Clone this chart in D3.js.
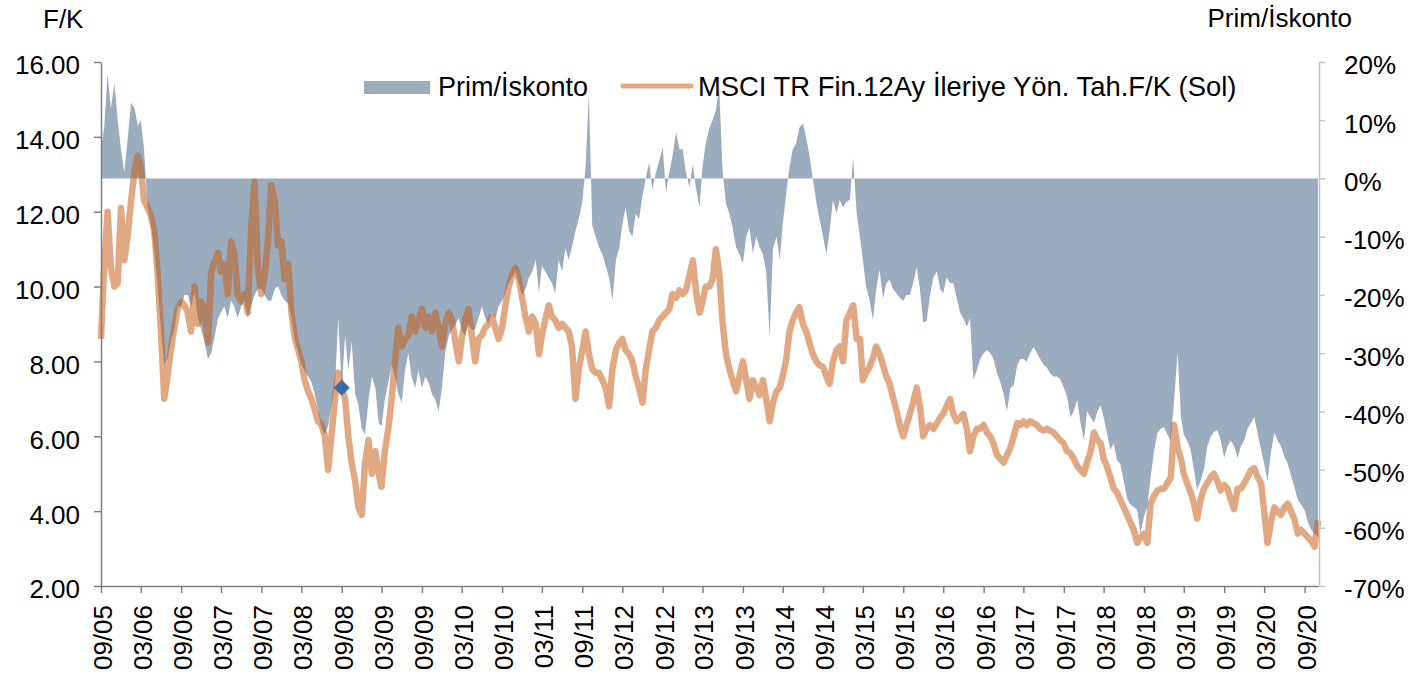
<!DOCTYPE html>
<meta charset="UTF-8">
<script src="https://d3js.org/d3.v7.min.js"></script>
<style>
body { margin: 0; background: #fff; }
text { font-family: "Liberation Sans", Arial, sans-serif; fill: #000; }
</style>
<body>
<div id="chart"></div>
<script>

// one point on the 1st and 16th of each month, starting 09/2005
var startYear = 2005, startMonth = 8, nPoints = 365;
var dates = d3.range(nPoints).map(function (i) {
  return new Date(startYear, startMonth + Math.floor(i / 2), i % 2 ? 16 : 1);
});

// MSCI TR Fin. 12m forward P/E (left axis)
var peValues = [
  8.6,10.6,12.0,10.5,10.0,10.1,12.1,10.7,11.4,12.3,13.1,13.5,13.2,12.3,12.1,11.9,11.5,10.4,8.8,7.0,7.6,8.3,8.9,9.4,
  9.6,9.5,9.3,8.8,10.0,9.0,9.6,9.4,8.5,10.4,10.7,10.9,10.4,10.6,9.8,11.2,10.9,9.8,9.6,9.8,9.3,11.5,12.8,10.5,
  9.8,10.3,11.2,12.7,12.3,11.1,11.2,10.2,10.6,9.3,8.6,8.3,8.0,7.5,7.2,7.0,6.7,6.4,6.3,6.0,5.1,6.0,7.0,7.7,
  7.3,7.0,6.0,5.3,4.8,4.1,3.9,5.3,5.9,5.0,5.6,5.0,4.65,5.6,6.2,7.0,8.0,8.9,8.4,8.6,8.7,9.2,8.8,9.1,
  9.4,8.9,9.2,8.8,9.3,8.9,8.4,9.0,9.3,9.1,8.5,8.0,8.6,9.1,9.4,8.7,8.0,8.6,8.7,8.9,9.0,9.2,8.9,8.6,
  8.9,9.5,10.0,10.3,10.5,10.2,9.7,9.2,8.8,9.2,9.0,8.2,8.7,9.1,9.5,9.2,9.1,8.9,9.0,8.9,8.8,8.4,7.0,7.8,
  8.3,8.8,8.2,7.8,7.7,7.7,7.5,7.3,6.8,7.8,8.3,8.5,8.6,8.3,8.2,8.0,7.6,7.3,6.9,7.8,8.3,8.8,8.9,9.1,
  9.2,9.3,9.4,9.8,9.7,9.9,9.8,9.9,10.3,10.7,9.8,9.3,9.6,10.0,10.0,10.2,11.0,10.4,9.0,8.2,7.8,7.5,7.2,7.6,
  8.0,7.5,7.0,7.5,7.3,7.1,7.5,7.0,6.4,6.9,7.2,7.3,7.6,8.0,8.8,9.1,9.3,9.45,9.0,8.8,8.5,8.2,8.0,7.9,
  7.85,7.6,7.4,8.0,8.3,8.4,8.0,9.1,9.3,9.5,8.6,8.6,7.5,7.7,7.85,8.1,8.4,8.2,7.9,7.6,7.4,7.05,6.7,6.3,
  6.0,6.3,6.6,6.9,7.3,6.8,6.0,6.2,6.3,6.2,6.35,6.5,6.6,6.8,7.0,6.6,6.4,6.5,6.6,6.2,5.6,6.0,6.2,6.2,
  6.3,6.1,6.0,5.8,5.5,5.4,5.3,5.5,5.7,6.0,6.35,6.3,6.4,6.3,6.4,6.35,6.3,6.2,6.15,6.2,6.15,6.1,6.0,5.9,
  5.8,5.6,5.55,5.4,5.2,5.1,5.0,5.3,5.6,6.1,5.9,5.8,5.4,5.2,4.9,4.6,4.5,4.3,4.1,3.9,3.7,3.5,3.15,3.3,
  3.4,3.15,4.2,4.4,4.55,4.6,4.6,4.75,4.9,6.3,5.7,5.4,5.0,4.75,4.5,4.2,3.8,4.3,4.6,4.75,4.9,5.0,4.8,4.55,
  4.7,4.6,4.3,4.05,4.6,4.6,4.75,4.9,5.1,5.15,4.9,4.75,4.0,3.15,3.7,4.1,4.0,3.9,4.1,4.2,4.0,3.8,3.4,3.5,
  3.4,3.3,3.2,3.05,3.75
];

// Prim/Iskonto in % (right axis)
var premValues = [
  5,9,18,12,16.4,10,5,1,7,13,12,9,10,5,-5,-8,-12,-18,-26,-32,-31,-28,-26,-22,
  -22,-20,-20,-22,-19.5,-24,-26,-28,-31,-30,-27,-24,-23,-22,-24,-21,-22,-24,-22,-21,-24,-22,-20,-19,
  -19,-20,-21,-21,-19,-18.5,-20,-21,-21.5,-24,-28,-30,-32,-33,-34,-35,-37,-40,-43,-44,-42.5,-39,-35.5,-24,
  -36,-27,-33,-28,-37,-39,-43,-44,-38,-34,-36,-42,-42.5,-38,-35,-32,-34,-37,-38.5,-33,-30,-34,-36,-33,
  -36,-34,-35,-37,-38,-40,-36,-30,-27,-26,-25,-24,-26,-27,-25,-26,-26,-24,-22,-24,-25,-23,-24,-22,
  -21,-19.7,-18,-17,-16,-18,-20,-19,-17,-16,-14,-19.7,-15,-16,-17,-18,-19.7,-14,-16,-12,-14,-11.8,-9,-7,
  -4,2,14.7,-8,-10,-11.8,-13,-15,-17,-21,-14,-12,-8,-5,-9,-10,-6,-7,-3,0,2.7,-2,1,3,
  5.3,-2.5,1,4,8,5,5,1,-1.5,2.5,-2,-5,2,6,8.7,10,11.7,15.7,1,-4.3,-6,-8.4,-11.8,-13,
  -14.6,-10,-8.4,-12.8,-10,-11.8,-13,-16,-27.3,-12,-10,-14,-8,-3,2,5,6,8.7,9.5,7,4,0,-4,-7,
  -10,-13,-9,-3.7,-6,-3.7,-5,-4,-3.7,3.5,-6,-10,-14,-18.6,-21,-24.3,-19,-15.7,-20.7,-18,-17.4,-19,-19.7,-20.5,
  -21,-20,-20,-18,-15.2,-19,-24.8,-24.5,-20,-17,-16,-19,-19.7,-17,-18,-18,-20.5,-23,-24,-25.5,-24,-34.6,-33,-31,
  -30,-29.5,-30,-31,-33.5,-35,-37,-40,-36,-35.5,-32,-31,-31,-31.5,-30,-29,-30,-31,-32,-32.5,-33.5,-34,-34,-34.5,
  -36,-37.5,-41,-40,-38,-42,-45,-40,-41,-42,-40,-39,-41,-43.7,-46.6,-45.5,-48.4,-49,-52,-55,-56,-56.4,-57,-61,
  -58,-56.4,-51.3,-47,-43.7,-43,-42.7,-44,-45,-38,-29.8,-41,-44,-45,-46.6,-50,-53.5,-52,-50,-46,-44.4,-43.5,-43.2,-45,
  -48,-46,-45,-46,-48,-46,-45,-43,-42,-41,-44,-46.6,-49,-52,-47,-43.7,-45,-46,-47.8,-49,-51,-53,-55.2,-56,
  -57,-59,-60.4,-61,-61.6
];

var markerDate = new Date(2008, 8, 1);
var markerValue = 7.3;

var leftTicks = [2, 4, 6, 8, 10, 12, 14, 16];
var rightTicks = [-70, -60, -50, -40, -30, -20, -10, 0, 10, 20];
var xTicks = d3.range(31).map(function (k) { return new Date(2005, 8 + 6 * k, 1); });

var seriesNames = ["Prim/İskonto", "MSCI TR Fin.12Ay İleriye Yön. Tah.F/K (Sol)"];

var width = 1411, height = 680;
var plotLeft = 101, plotRight = 1318, plotTop = 62, plotBottom = 586;

var areaColor = "#9aacbd";
var lineColor = "#c55a11";

var svg = d3.select("#chart")
  .append("svg")
    .attr("width", width)
    .attr("height", height);

var x = d3.scaleTime()
  .domain([dates[0], dates[nPoints - 1]])
  .range([plotLeft, plotRight]);

var yL = d3.scaleLinear().domain([2, 16]).range([plotBottom, plotTop]);
var yR = d3.scaleLinear().domain([-70, 20]).range([plotBottom, plotTop]);

// premium / discount area
var area = d3.area()
  .x(function (d, i) { return x(dates[i]); })
  .y0(yR(0))
  .y1(function (d) { return yR(d); });

svg.append("path")
  .datum(premValues)
  .attr("d", area)
  .attr("fill", areaColor);

// P/E line
var line = d3.line()
  .x(function (d, i) { return x(dates[i]); })
  .y(function (d) { return yL(d); });

svg.append("path")
  .datum(peValues)
  .attr("d", line)
  .attr("fill", "none")
  .attr("stroke", lineColor)
  .attr("stroke-opacity", 0.52)
  .attr("stroke-width", 6.5)
  .attr("stroke-linejoin", "round");

svg.append("path")
  .attr("d", d3.symbol(d3.symbolSquare, 128)())
  .attr("transform", "translate(" + x(markerDate) + "," + yL(markerValue) + ") rotate(45)")
  .attr("fill", "#3b6ca8");

// axes
var gl = svg.append("g")
  .attr("transform", "translate(" + plotLeft + ",0)")
  .call(d3.axisLeft(yL).tickValues(leftTicks).tickFormat(d3.format(".2f"))
    .tickSize(7).tickSizeOuter(0).tickPadding(14));

var gr = svg.append("g")
  .attr("transform", "translate(" + (plotRight + 1) + ",0)")
  .call(d3.axisRight(yR).tickValues(rightTicks).tickFormat(function (d) { return d + "%"; })
    .tickSize(6).tickSizeOuter(0).tickPadding(19));

var gb = svg.append("g")
  .attr("transform", "translate(0," + plotBottom + ")")
  .call(d3.axisBottom(x).tickValues(xTicks).tickFormat(d3.timeFormat("%m/%y"))
    .tickSize(7).tickSizeOuter(0));

gb.selectAll(".tick text")
  .attr("x", 0).attr("y", 0).attr("dy", null)
  .attr("text-anchor", "end")
  .attr("transform", "translate(10.5,19) rotate(-90)");

[gl, gr, gb].forEach(function (g) {
  g.attr("font-family", null).attr("font-size", null);
  g.selectAll(".tick text").style("font-size", "26px");
});
gl.selectAll(".tick text").attr("dy", "0.46em");
gr.selectAll(".tick text").attr("dy", "0.46em");

gl.selectAll("path, line").attr("stroke", "#7f7f7f").attr("stroke-width", 1.5);
gb.selectAll("path, line").attr("stroke", "#7f7f7f").attr("stroke-width", 1.5);
gr.selectAll("path, line").attr("stroke", "#c4c4c4").attr("stroke-width", 1.5);

// axis titles
svg.append("text").attr("x", 43).attr("y", 28).style("font-size", "26px").text("F/K");
svg.append("text").attr("x", 1352).attr("y", 27).attr("text-anchor", "end")
  .style("font-size", "26px").text("Prim/İskonto");

// legend
svg.append("rect")
  .attr("x", 364).attr("y", 81).attr("width", 66).attr("height", 13)
  .attr("fill", areaColor);
svg.append("text").attr("x", 438).attr("y", 96).style("font-size", "27px").text(seriesNames[0]);

svg.append("line")
  .attr("x1", 623).attr("x2", 691).attr("y1", 86).attr("y2", 86)
  .attr("stroke", lineColor).attr("stroke-opacity", 0.52)
  .attr("stroke-width", 5).attr("stroke-linecap", "round");
svg.append("text").attr("x", 698).attr("y", 96).style("font-size", "27.4px").text(seriesNames[1]);

</script>
</body>
